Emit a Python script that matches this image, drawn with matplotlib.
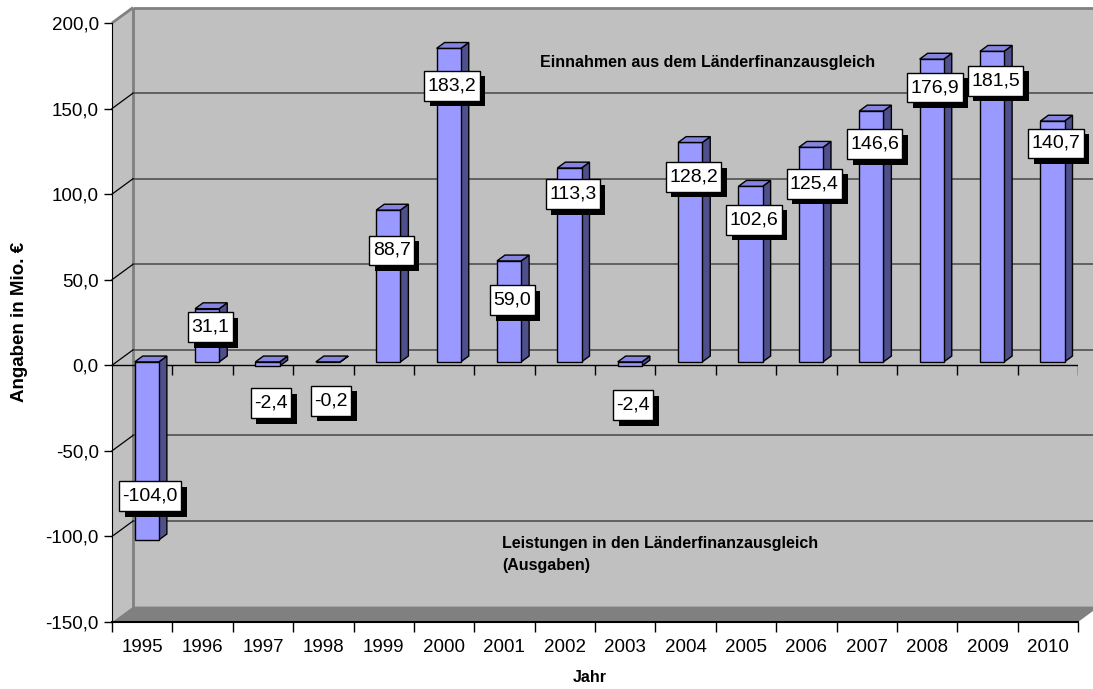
import matplotlib.pyplot as plt
import matplotlib.patheffects as pe
from matplotlib.patches import Polygon, Rectangle
from matplotlib.path import Path
from matplotlib.ticker import FuncFormatter, MultipleLocator
import numpy as np

years = [1995, 1996, 1997, 1998, 1999, 2000, 2001, 2002,
         2003, 2004, 2005, 2006, 2007, 2008, 2009, 2010]
values = [-104.0, 31.1, -2.4, -0.2, 88.7, 183.2, 59.0, 113.3,
          -2.4, 128.2, 102.6, 125.4, 146.6, 176.9, 181.5, 140.7]
# vertical nudge of each data label (pixels), as placed in the original
label_dy = [47, -15, -34, -35, -37, -34, -36, -23,
            -36, -31, -30, -33, -30, -25, -26, -19]

plt.rcParams['font.family'] = ['Liberation Sans', 'DejaVu Sans']

fig = plt.figure(figsize=(10.93, 6.89), dpi=100)
ax = fig.add_axes([112/1093, 67/689, 966/1093, 599/689])
ax.set_xlim(0, 16)
ax.set_ylim(-150, 200)
ax.patch.set_visible(False)

DX, DY = 0.348, 9.0   # depth of the 3d box, in data units
F0, F1 = 0.22, 0.60   # depth range of the bars
n = len(values)

def P(x, y, f):
    return (x + f*DX, y + f*DY)

def label_box(x0, y0, w, h, mutation_size):
    # taller than wide padding, like the excel label frames
    px, py = 0.17*mutation_size, 0.33*mutation_size
    x0, y0, x1, y1 = x0 - px, y0 - py, x0 + w + px, y0 + h + py
    return Path([(x0, y0), (x1, y0), (x1, y1), (x0, y1), (x0, y0)], closed=True)

# walls and floor
ax.add_patch(Polygon([P(0, -150, 1), P(n, -150, 1), P(n, 200, 1), P(0, 200, 1)],
                     fc='#C0C0C0', ec='none', zorder=0.1, clip_on=False))
ax.add_patch(Polygon([(0, -150), P(0, -150, 1), P(0, 200, 1), (0, 200)],
                     fc='#C0C0C0', ec='none', zorder=0.1, clip_on=False))
ax.add_patch(Polygon([(0, -150), (n, -150), P(n, -150, 1), P(0, -150, 1)],
                     fc='#808080', ec='none', zorder=0.2, clip_on=False))
edge = dict(color='#808080', lw=2, zorder=0.3, clip_on=False, solid_capstyle='butt')
ax.plot([DX, DX], [-150+DY, 200+DY], **edge)
ax.plot([DX, n+DX], [200+DY, 200+DY], **edge)
ax.plot([0, DX], [200, 200+DY], **edge)

for g in range(-100, 200, 50):
    ax.plot([DX, n+DX], [g+DY, g+DY], color='#505050', lw=1.2, zorder=0.4, clip_on=False)
    ax.plot([0, DX], [g, g+DY], color='black', lw=0.9, zorder=0.4, clip_on=False)

# zero line on the front plane
ax.plot([0, n], [0, 0], color='black', lw=1, zorder=1.5)
ax.vlines(np.arange(1, n+1), -5.8, 0, color='black', lw=1, zorder=1.5)

# notes
ax.text(9.87, 177, 'Einnahmen aus dem Länderfinanzausgleich', ha='center', va='center',
        fontsize=11.5, fontweight='bold', zorder=1)
ax.text(6.46, -104, 'Leistungen in den Länderfinanzausgleich', ha='left', va='center',
        fontsize=11.5, fontweight='bold', zorder=1)
t = ax.text(6.46, -116.9, '(Ausgaben)', ha='left', va='center',
            fontsize=11.5, fontweight='bold', zorder=1)
t.set_clip_path(Rectangle((0, -119.3), n, 400, transform=ax.transData))

# bars
for i, v in enumerate(values):
    x0, x1 = i + 0.3, i + 0.7
    lo, hi = min(0, v), max(0, v)
    front = [P(x0, lo, F0), P(x1, lo, F0), P(x1, hi, F0), P(x0, hi, F0)]
    side = [P(x1, lo, F0), P(x1, lo, F1), P(x1, hi, F1), P(x1, hi, F0)]
    top = [P(x0, hi, F0), P(x1, hi, F0), P(x1, hi, F1), P(x0, hi, F1)]
    ax.add_patch(Polygon(side, fc='#4F4F8C', ec='black', lw=1, zorder=2))
    ax.add_patch(Polygon(front, fc='#9999FF', ec='black', lw=1, zorder=2))
    ax.add_patch(Polygon(top, fc='#8585E0', ec='black', lw=1, zorder=2))

# data labels: white box with a black drop shadow
for i, v in enumerate(values):
    txt = f"{v:.1f}".replace('.', ',')
    a = ax.annotate(txt, (i + 0.5, v), xytext=(8, label_dy[i]), textcoords='offset pixels',
                    ha='center', va='center', fontsize=14, color='black',
                    bbox=dict(boxstyle=label_box, lw=1, ec='black', fc='white'),
                    zorder=6)
    a.get_bbox_patch().set_path_effects([
        pe.SimplePatchShadow(offset=(4, -4), shadow_rgbFace='black', alpha=1), pe.Normal()])

# axes
for s in ('top', 'right'):
    ax.spines[s].set_visible(False)
ax.spines['left'].set_zorder(3)
ax.spines['bottom'].set_linewidth(1.5)
ax.spines['bottom'].set_zorder(3)
ax.yaxis.set_major_locator(MultipleLocator(50))
ax.yaxis.set_major_formatter(FuncFormatter(lambda v, p: f"{v:.1f}".replace('.', ',')))
ax.tick_params(axis='y', length=6, width=1, pad=3.5, labelsize=13.5)
ax.set_xticks(np.arange(n) + 0.5)
ax.set_xticklabels([str(y) for y in years])
ax.set_xticks(np.arange(n + 1), minor=True)
ax.tick_params(axis='x', which='major', length=0, pad=12, labelsize=13.5)
ax.tick_params(axis='x', which='minor', length=7, width=1)

fig.text(20/1093, 1 - 322/689, 'Angaben in Mio. €', rotation=90, ha='center', va='center',
         fontsize=13.5, fontweight='bold')
fig.text(590/1093, 1 - 677/689, 'Jahr', ha='center', va='center',
         fontsize=11.5, fontweight='bold')

fig.savefig('out.png', dpi=100)
